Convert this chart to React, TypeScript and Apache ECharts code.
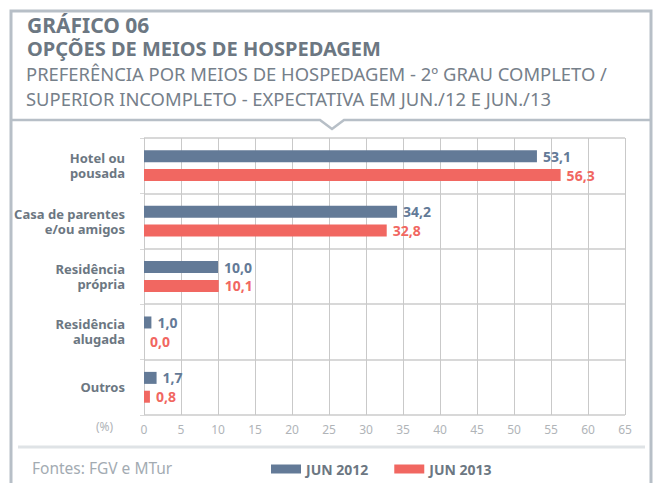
import React, { useEffect, useRef } from "react";
import * as echarts from "echarts";

const categories = ["Hotel ou\npousada", "Casa de parentes\ne/ou amigos", "Residência\nprópria", "Residência\nalugada", "Outros"];
const jun2012 = [53.1, 34.2, 10.0, 1.0, 1.7];
const jun2013 = [56.3, 32.8, 10.1, 0.0, 0.8];
const seriesNames = ["JUN 2012", "JUN 2013"];
const titleLines = [
  "GRÁFICO 06",
  "OPÇÕES DE MEIOS DE HOSPEDAGEM",
  "PREFERÊNCIA POR MEIOS DE HOSPEDAGEM - 2º GRAU COMPLETO /",
  "SUPERIOR INCOMPLETO - EXPECTATIVA EM JUN./12 E JUN./13",
];
const sourceText = "Fontes: FGV e MTur";
const unitText = "(%)";

const BLUE = "#637a97";
const RED = "#f16761";
const GRAY = "#6c7782";
const FONT = "'Noto Sans', sans-serif";

export default function App() {
  const ref = useRef<HTMLDivElement>(null);
  useEffect(() => {
    if (!ref.current) return;
    const chart = echarts.init(ref.current, null, { renderer: "svg" });
    const fmt = (p: any) => Number(p.value).toFixed(1).replace(".", ",");
    const mkSeries = (name: string, data: number[], color: string) => ({
      name,
      type: "bar",
      data,
      barWidth: 12,
      barGap: "57%",
      itemStyle: { color },
      label: {
        show: true,
        position: "right",
        distance: 6,
        formatter: fmt,
        color,
        fontFamily: FONT,
        fontWeight: "bold",
        fontSize: 14,
      },
    });
    chart.setOption({
      animation: false,
      backgroundColor: "#ffffff",
      textStyle: { fontFamily: FONT },
      grid: { left: 144, right: 31, top: 138, bottom: 68, containLabel: false },
      xAxis: {
        type: "value",
        min: 0,
        max: 65,
        interval: 5,
        axisLine: { show: false },
        axisTick: { show: false },
        splitLine: { show: true, lineStyle: { color: "#c9c9c9", width: 1 } },
        axisLabel: { color: "#b0b4b8", fontSize: 12, margin: 8, fontFamily: FONT },
      },
      yAxis: {
        type: "category",
        data: categories,
        inverse: true,
        axisLine: { show: false },
        axisTick: { show: true, length: 4, lineStyle: { color: "#d8d8d8" } },
        splitLine: { show: true, lineStyle: { color: "#d8d8d8", width: 2 } },
        axisLabel: {
          color: GRAY,
          fontWeight: "bold",
          fontSize: 13,
          lineHeight: 15,
          margin: 19,
          fontFamily: FONT,
        },
      },
      legend: {
        left: 266,
        top: 457,
        itemWidth: 30,
        itemHeight: 9,
        itemGap: 26,
        icon: "rect",
        data: seriesNames,
        textStyle: { color: GRAY, fontWeight: "bold", fontSize: 14, fontFamily: FONT },
      },
      series: [mkSeries(seriesNames[0], jun2012, BLUE), mkSeries(seriesNames[1], jun2013, RED)],
      graphic: [
        {
          type: "polyline",
          shape: { points: [[11, 490], [11, 11], [651, 11], [651, 490]] },
          style: { stroke: "#b7bfc7", lineWidth: 3, fill: null },
          silent: true,
        },
        {
          type: "polyline",
          shape: { points: [[11, 120], [320, 120], [332, 129], [344, 120], [651, 120]] },
          style: { stroke: "#b7bfc7", lineWidth: 2.5, fill: null },
          silent: true,
        },
        {
          type: "line",
          shape: { x1: 18, y1: 447, x2: 645, y2: 447 },
          style: { stroke: "#dfe3e6", lineWidth: 3 },
          silent: true,
        },
        {
          type: "text",
          x: 27,
          y: 14,
          style: { text: titleLines[0], fill: GRAY, font: `bold 21px ${FONT}` },
        },
        {
          type: "text",
          x: 27,
          y: 38,
          style: { text: titleLines[1], fill: GRAY, font: `bold 20px ${FONT}` },
        },
        {
          type: "text",
          x: 26,
          y: 64,
          style: { text: titleLines[2], fill: "#76808a", font: `18.4px ${FONT}` },
        },
        {
          type: "text",
          x: 26,
          y: 89,
          style: { text: titleLines[3], fill: "#76808a", font: `18.4px ${FONT}` },
        },
        {
          type: "text",
          x: 32,
          y: 460,
          style: { text: sourceText, fill: "#a3abb2", font: `15.5px ${FONT}` },
        },
        {
          type: "text",
          x: 96,
          y: 420,
          style: { text: unitText, fill: "#b0b4b8", font: `12px ${FONT}` },
        },
      ],
    });
    return () => chart.dispose();
  }, []);
  return <div ref={ref} style={{ width: 656, height: 483, position: "fixed", left: 0, top: 0 }} />;
}
